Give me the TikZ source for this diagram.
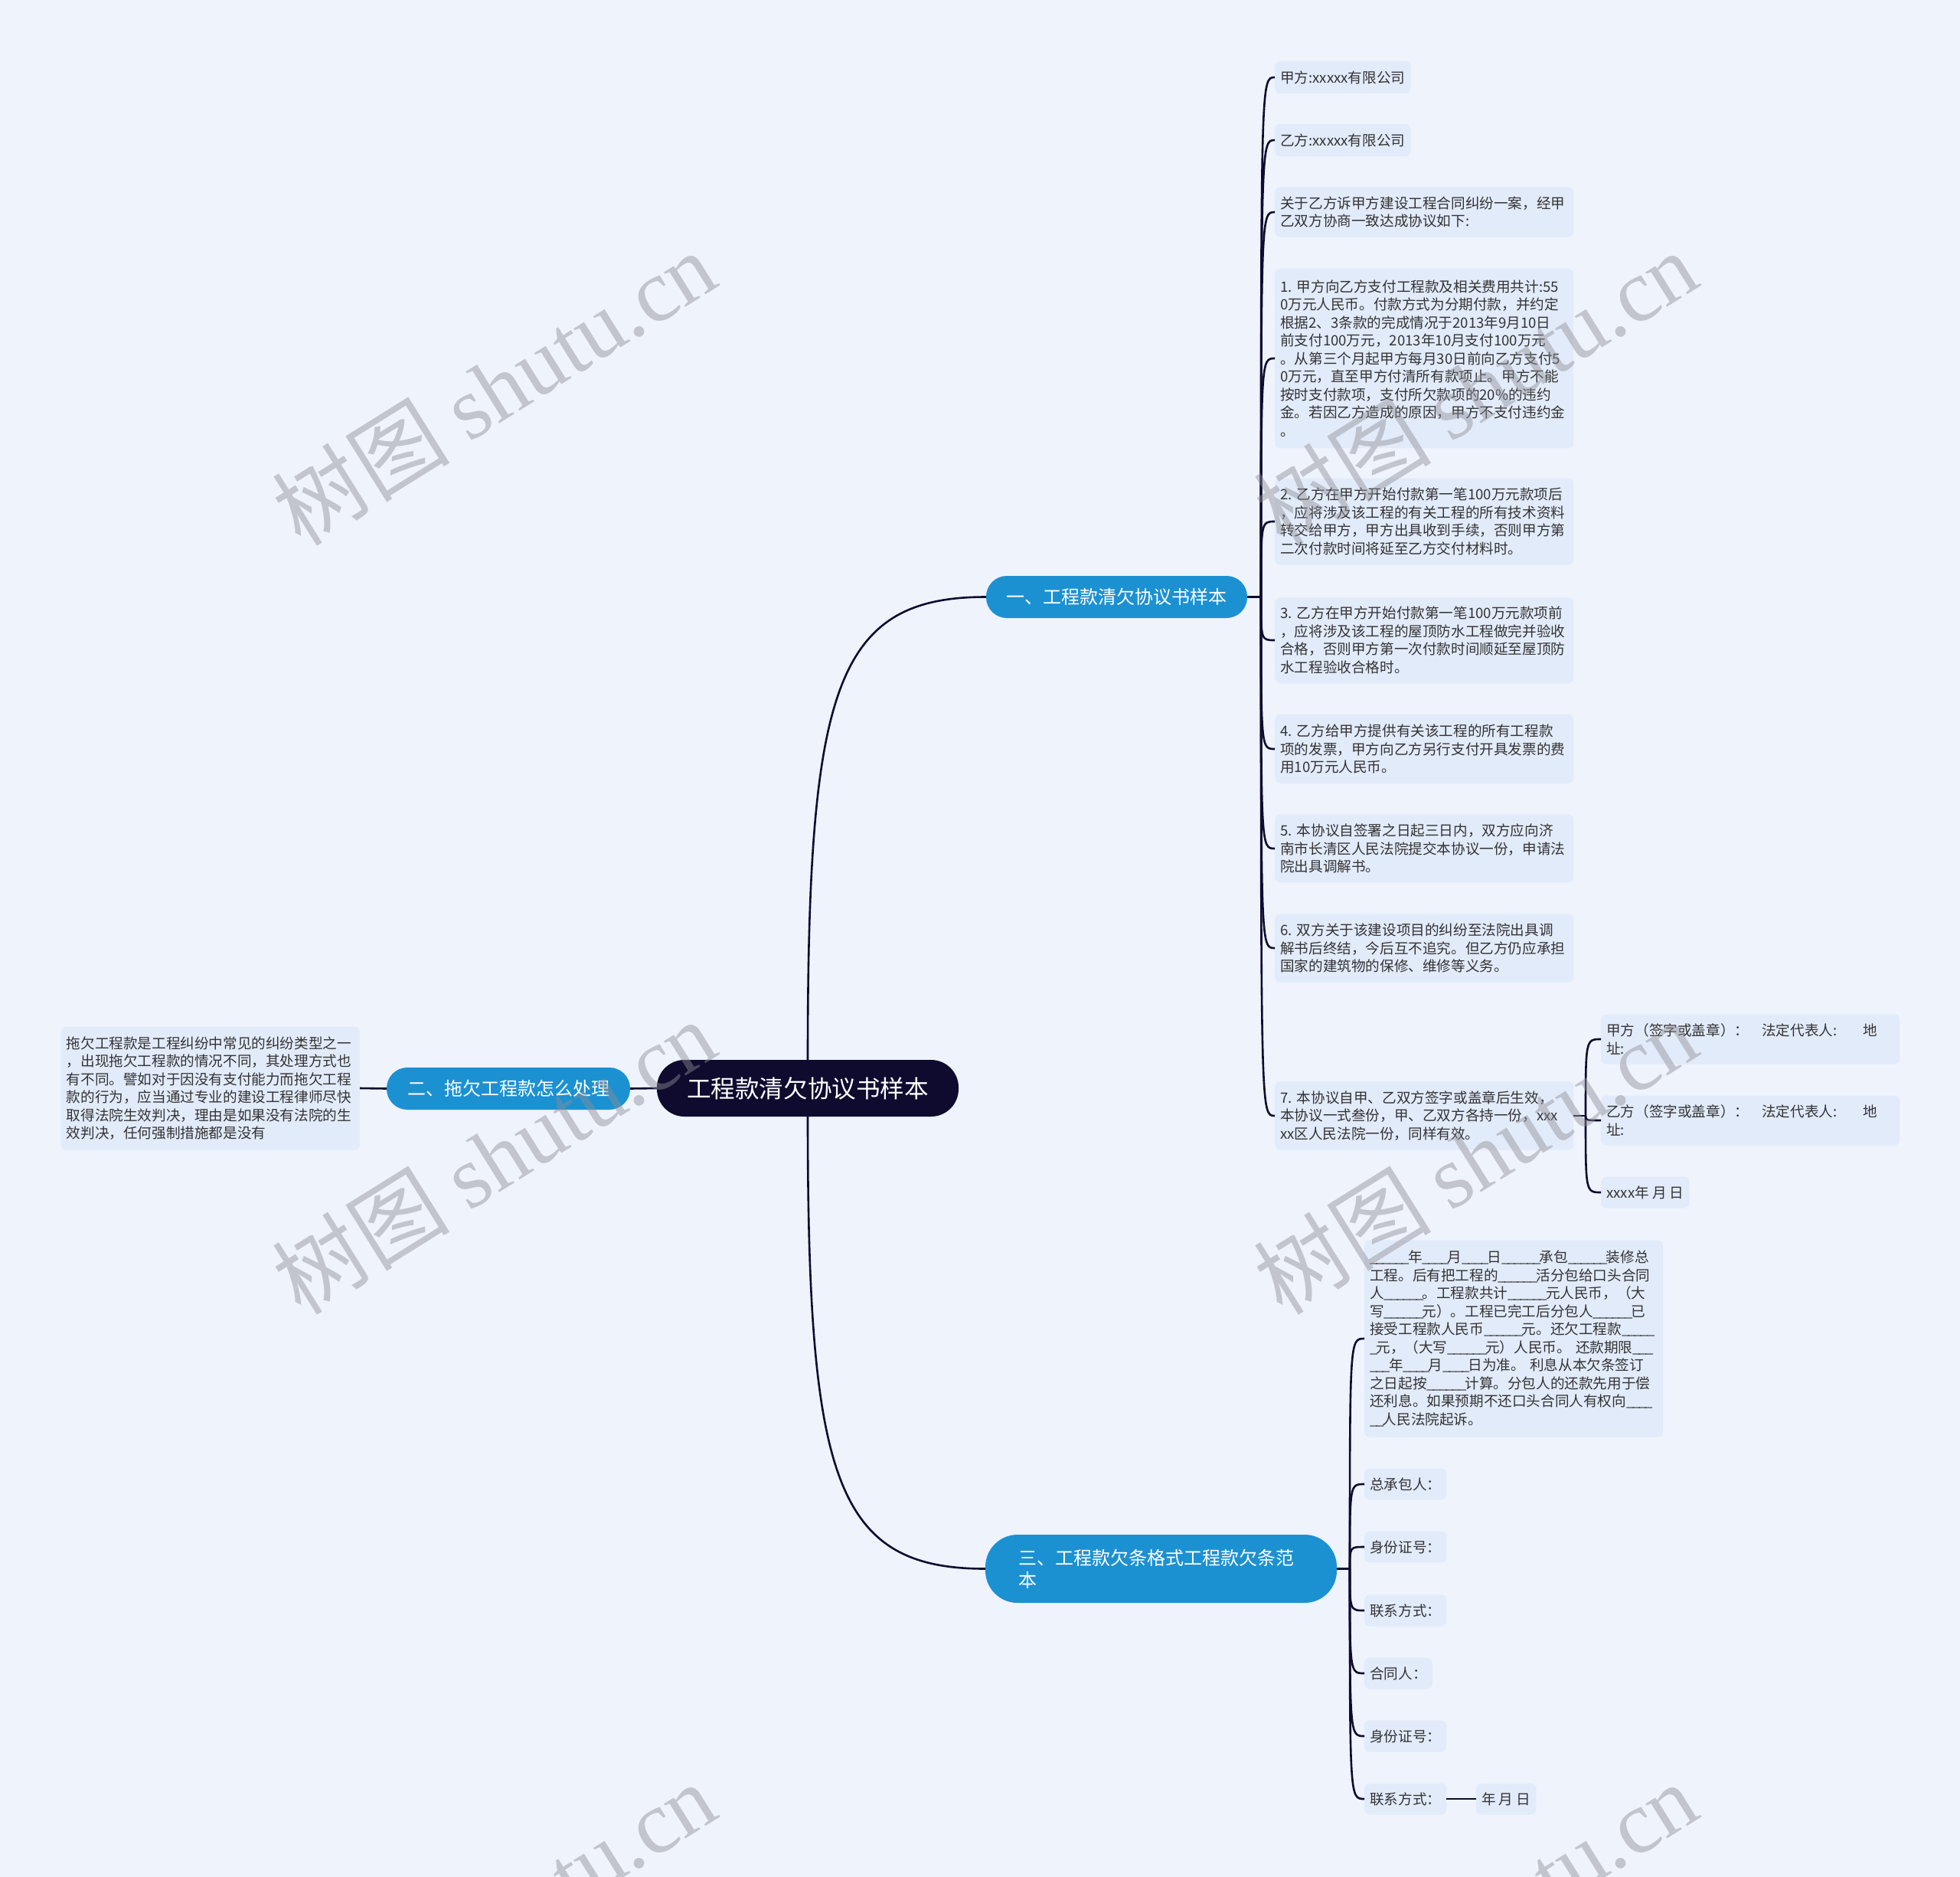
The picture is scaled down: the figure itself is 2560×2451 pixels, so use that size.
\documentclass[tikz,border=0pt]{standalone}
\usepackage{fontspec}
\setmainfont{Noto Sans CJK SC}
\newfontfamily\wmserif{Liberation Serif}
\usetikzlibrary{calc}
\definecolor{bg}{HTML}{EEF3FC}
\definecolor{leaffill}{HTML}{E2EBFA}
\definecolor{leaftext}{HTML}{333333}
\definecolor{mainblue}{HTML}{1C91D2}
\definecolor{rootfill}{HTML}{0E0B2F}
\definecolor{linec}{HTML}{0E0B2F}
\definecolor{wmc}{HTML}{8E8E96}
\newcommand\ub{\_\kern-2.1pt}
\begin{document}
\begin{tikzpicture}[x=1pt,y=-1pt,
  leaf/.style={fill=leaffill, rounded corners=7pt, inner xsep=7pt, inner ysep=0pt, text=leaftext,
    font=\fontsize{18.6}{23.5}\selectfont, anchor=west, minimum height=42pt},
  leafw/.style={leaf, text width=376pt, align=left},
  branch/.style={fill=mainblue, text=white, font=\fontsize{24}{29}\selectfont, inner sep=0pt,
    rounded corners=27pt, minimum height=55pt},
  rootbox/.style={fill=rootfill, text=white, font=\fontsize{31.6}{36}\selectfont, inner sep=0pt,
    minimum width=394pt, minimum height=74pt, rounded corners=36pt},
  conn/.style={draw=linec, line width=2.6pt},
  wm/.style={text=wmc, opacity=0.45, rotate=32, font=\fontsize{116}{120}\selectfont}
]
\fill[bg] (0,0) rectangle (2560,2451);
\useasboundingbox (0,0) rectangle (2560,2451);

% root and branches
\node[rootbox] (root) at (1055,1421) {工程款清欠协议书样本};
\node[branch, minimum width=341pt] (b1) at (1458.5,779.5) {一、工程款清欠协议书样本};
\node[branch, minimum width=318pt] (b2) at (664,1421.5) {二、拖欠工程款怎么处理};
\node[branch, minimum width=459pt, minimum height=89pt, rounded corners=42pt, text width=373pt, align=left] (b3) at (1516.5,2048.5) {三、工程款欠条格式工程款欠条范\\本};

% branch 1 children
\node[leaf] (c1) at (1665,101) {甲方:xxxxx有限公司};
\node[leaf] (c2) at (1665,183) {乙方:xxxxx有限公司};
\node[leafw, minimum height=65pt] (c3) at (1665,277) {关于乙方诉甲方建设工程合同纠纷一案，经甲\\乙双方协商一致达成协议如下:};
\node[leafw, minimum height=234pt] (c4) at (1665,468) {1.~甲方向乙方支付工程款及相关费用共计:55\\0万元人民币。付款方式为分期付款，并约定\\根据2、3条款的完成情况于2013年9月10日\\前支付100万元，2013年10月支付100万元\\。从第三个月起甲方每月30日前向乙方支付5\\0万元，直至甲方付清所有款项止。甲方不能\\按时支付款项，支付所欠款项的20\%的违约\\金。若因乙方造成的原因，甲方不支付违约金\\。};
\node[leafw, minimum height=113pt] (c5) at (1665,681) {2.~乙方在甲方开始付款第一笔100万元款项后\\，应将涉及该工程的有关工程的所有技术资料\\转交给甲方，甲方出具收到手续，否则甲方第\\二次付款时间将延至乙方交付材料时。};
\node[leafw, minimum height=112pt] (c6) at (1665,836) {3.~乙方在甲方开始付款第一笔100万元款项前\\，应将涉及该工程的屋顶防水工程做完并验收\\合格，否则甲方第一次付款时间顺延至屋顶防\\水工程验收合格时。};
\node[leafw, minimum height=90pt] (c7) at (1665,978) {4.~乙方给甲方提供有关该工程的所有工程款\\项的发票，甲方向乙方另行支付开具发票的费\\用10万元人民币。};
\node[leafw, minimum height=89pt] (c8) at (1665,1108) {5.~本协议自签署之日起三日内，双方应向济\\南市长清区人民法院提交本协议一份，申请法\\院出具调解书。};
\node[leafw, minimum height=89pt] (c9) at (1665,1238) {6.~双方关于该建设项目的纠纷至法院出具调\\解书后终结，今后互不追究。但乙方仍应承担\\国家的建筑物的保修、维修等义务。};
\node[leafw, minimum height=89pt] (c10) at (1665,1457) {7.~本协议自甲、乙双方签字或盖章后生效，\\本协议一式叁份，甲、乙双方各持一份，xxx\\xx区人民法院一份，同样有效。};

% children of item 7
\node[leafw, minimum height=65pt] (s1) at (2091,1357) {甲方（签字或盖章）：\kern17pt 法定代表人:\kern34pt 地\\址:};
\node[leafw, minimum height=65pt] (s2) at (2091,1463) {乙方（签字或盖章）：\kern17pt 法定代表人:\kern34pt 地\\址:};
\node[leaf, minimum height=41pt] (s3) at (2091,1557) {xxxx年 月 日};

% branch 2 child
\node[leafw, anchor=east, minimum height=161pt] (L) at (470,1421) {拖欠工程款是工程纠纷中常见的纠纷类型之一\\，出现拖欠工程款的情况不同，其处理方式也\\有不同。譬如对于因没有支付能力而拖欠工程\\款的行为，应当通过专业的建设工程律师尽快\\取得法院生效判决，理由是如果没有法院的生\\效判决，任何强制措施都是没有};

% branch 3 children
\node[leafw, minimum height=257pt] (d1) at (1782,1748) {\ub\ub\ub\ub\ub\ub 年\ub\ub\ub\ub 月\ub\ub\ub\ub 日\ub\ub\ub\ub\ub\ub 承包\ub\ub\ub\ub\ub\ub 装修总\\工程。后有把工程的\ub\ub\ub\ub\ub\ub 活分包给口头合同\\人\ub\ub\ub\ub\ub\ub 。工程款共计\ub\ub\ub\ub\ub\ub 元人民币，（大\\写\ub\ub\ub\ub\ub\ub 元）。工程已完工后分包人\ub\ub\ub\ub\ub\ub 已\\接受工程款人民币\ub\ub\ub\ub\ub\ub 元。还欠工程款\ub\ub\ub\ub\ub\\\ub 元，（大写\ub\ub\ub\ub\ub\ub 元）人民币。~还款期限\ub\ub\ub\\\ub\ub\ub 年\ub\ub\ub\ub 月\ub\ub\ub\ub 日为准。~利息从本欠条签订\\之日起按\ub\ub\ub\ub\ub\ub 计算。分包人的还款先用于偿\\还利息。如果预期不还口头合同人有权向\ub\ub\ub\ub\\\ub\ub 人民法院起诉。};
\node[leaf, minimum height=41pt] (d2) at (1782,1938) {总承包人：};
\node[leaf, minimum height=41pt] (d3) at (1782,2020) {身份证号：};
\node[leaf, minimum height=41pt] (d4) at (1782,2103) {联系方式：};
\node[leaf, minimum height=41pt] (d5) at (1782,2185) {合同人：};
\node[leaf, minimum height=41pt] (d6) at (1782,2267) {身份证号：};
\node[leaf, minimum height=41pt] (d7) at (1782,2349) {联系方式：};
\node[leaf, minimum height=41pt] (d8) at (1928,2349) {年 月 日};

% connectors
\draw[conn] (root.north) .. controls (1055,900) and (1090,779.5) .. (b1.west);
\draw[conn] (root.south) .. controls (1055,1930) and (1090,2048.5) .. (b3.west);
\draw[conn] (root.west) -- (b2.east);
\draw[conn] (b2.west) -- (L.east);

\coordinate (j1) at (1647,779.5);
\draw[conn] (b1.east) -- (j1);
\foreach \c in {c1,c2,c3,c4,c5,c6,c7,c8,c9,c10}
  \draw[conn] (j1) .. controls (j1 |- \c.west) and (j1 |- \c.west) .. (\c.west);

\coordinate (j7) at (2071,1457);
\draw[conn] (c10.east) -- (j7);
\foreach \c in {s1,s2,s3}
  \draw[conn] (j7) .. controls (j7 |- \c.west) and (j7 |- \c.west) .. (\c.west);

\coordinate (j3) at (1763,2048.5);
\draw[conn] (b3.east) -- (j3);
\foreach \c in {d1,d2,d3,d4,d5,d6,d7}
  \draw[conn] (j3) .. controls (j3 |- \c.west) and (j3 |- \c.west) .. (\c.west);
\draw[conn] (d7.east) -- (d8.west);

% watermarks
\node[wm] (w1) at (645,506) {树图 {\wmserif shutu.cn}};
\node[wm] (w2) at (1927,506) {树图 {\wmserif shutu.cn}};
\node[wm] (w3) at (645,1510) {树图 {\wmserif shutu.cn}};
\node[wm] (w4) at (1927,1510) {树图 {\wmserif shutu.cn}};
\node[wm] (w5) at (645,2506) {树图 {\wmserif shutu.cn}};
\node[wm] (w6) at (1927,2506) {树图 {\wmserif shutu.cn}};
\end{tikzpicture}
\end{document}
